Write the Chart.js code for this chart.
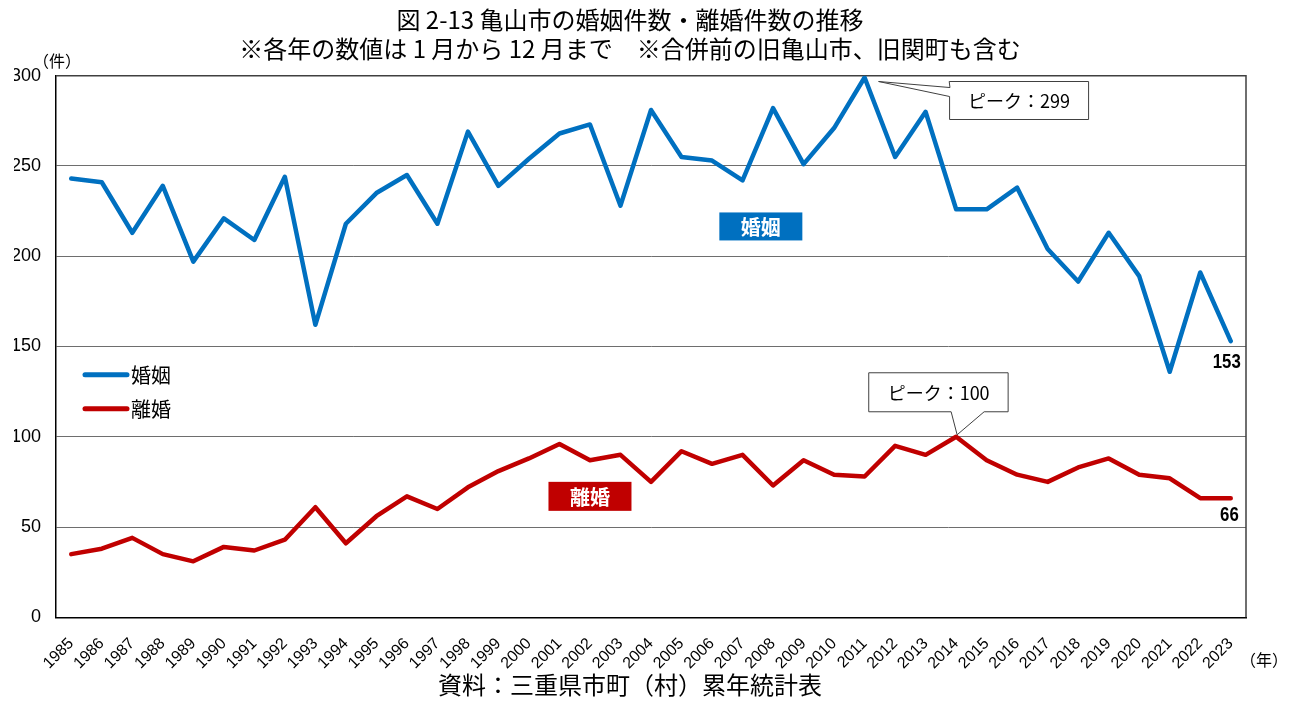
<!DOCTYPE html>
<html>
<head>
<meta charset="utf-8">
<script src="https://cdn.jsdelivr.net/npm/chart.js@4.4.1/dist/chart.umd.min.js"></script>
<style>
html,body{margin:0;padding:0;background:#ffffff;}
#wrap{width:1292px;height:704px;}
</style>
</head>
<body>
<div id="wrap"><canvas id="c" width="1292" height="704"></canvas></div>
<script>
// ---- data ----
const years = [1985,1986,1987,1988,1989,1990,1991,1992,1993,1994,1995,1996,1997,1998,1999,2000,2001,2002,2003,2004,2005,2006,2007,2008,2009,2010,2011,2012,2013,2014,2015,2016,2017,2018,2019,2020,2021,2022,2023];
const marriages = [243,241,213,239,197,221,209,244,162,218,235,245,218,269,239,254,268,273,228,281,255,253,242,282,251,271,299,255,280,226,226,238,204,186,213,189,136,191,153];
const divorces  = [35,38,44,35,31,39,37,43,61,41,56,67,60,72,81,88,96,87,90,75,92,85,90,73,87,79,78,95,90,100,87,79,75,83,88,79,77,66,66];
const yTicks = [0,50,100,150,200,250,300];
const seriesNames = ['婚姻','離婚'];
const seriesColors = ['#0070c0','#c00000'];
const titleLines = ['図 2-13 亀山市の婚姻件数・離婚件数の推移','※各年の数値は 1 月から 12 月まで　※合併前の旧亀山市、旧関町も含む'];
const sourceText = '資料：三重県市町（村）累年統計表';
const yUnit = '（件）';
const xUnit = '（年）';
const peakPrefix = 'ピーク：';

const JP = "'Noto Sans CJK JP', 'Noto Sans', sans-serif";
const LAT = "'Liberation Sans', Arial, sans-serif";

function condensedText(ctx, text, x, y, sx, align) {
  ctx.save();
  ctx.translate(x, y);
  ctx.scale(sx, 1);
  ctx.textAlign = align;
  ctx.fillText(text, 0, 0);
  ctx.restore();
}

const decor = {
  id: 'decor',
  beforeDatasetsDraw(chart) {
    const {ctx, chartArea: a} = chart;
    ctx.save();
    ctx.strokeStyle = '#404040';
    ctx.lineWidth = 1.5;
    ctx.beginPath();
    ctx.moveTo(a.left, a.top);
    ctx.lineTo(a.right, a.top);
    ctx.lineTo(a.right, a.bottom);
    ctx.stroke();
    ctx.restore();
  },
  afterDraw(chart) {
    const {ctx, chartArea: a} = chart;
    const xs = chart.scales.x, ys = chart.scales.y;
    const px = i => xs.getPixelForValue(i);
    const py = v => ys.getPixelForValue(v);
    ctx.save();
    ctx.textBaseline = 'middle';
    ctx.fillStyle = '#000';

    // unit labels
    ctx.font = "16px " + JP;
    ctx.textAlign = 'center';
    ctx.fillText(yUnit, a.left + 1, a.top - 15);
    ctx.fillText(xUnit, a.right + 18, a.bottom + 43);

    // legend (inside plot)
    const lgX = a.left + 29, lgY = [a.top + 299, a.top + 333];
    seriesNames.forEach((n, k) => {
      ctx.strokeStyle = seriesColors[k];
      ctx.lineWidth = 5;
      ctx.lineCap = 'round';
      ctx.beginPath();
      ctx.moveTo(lgX, lgY[k]);
      ctx.lineTo(lgX + 42, lgY[k]);
      ctx.stroke();
      ctx.fillStyle = '#000';
      ctx.font = "20px " + JP;
      ctx.textAlign = 'left';
      ctx.fillText(n, lgX + 46, lgY[k] + 1);
    });

    // series name boxes
    const boxes = [
      {i: 22.6, v: 216.5, w: 83, h: 28},
      {i: 17.0, v: 67, w: 83, h: 29}
    ];
    boxes.forEach((b, k) => {
      const cx = px(b.i), cy = py(b.v);
      ctx.fillStyle = seriesColors[k];
      ctx.fillRect(cx - b.w / 2, cy - b.h / 2, b.w, b.h);
      ctx.fillStyle = '#fff';
      ctx.font = "bold 20px " + JP;
      ctx.textAlign = 'center';
      ctx.fillText(seriesNames[k], cx, cy + 1);
    });

    // peak callouts
    ctx.lineWidth = 1;
    ctx.strokeStyle = '#404040';
    // marriage peak
    let im = marriages.indexOf(Math.max(...marriages));
    let P = {x: px(im), y: py(marriages[im])};
    let L = P.x + 85, T = P.y + 4, R = P.x + 224, B = P.y + 42;
    ctx.beginPath();
    ctx.moveTo(L, T); ctx.lineTo(R, T); ctx.lineTo(R, B); ctx.lineTo(L, B);
    ctx.lineTo(L, P.y + 19); ctx.lineTo(P.x + 14, P.y + 4); ctx.lineTo(L, P.y + 10);
    ctx.closePath();
    ctx.fillStyle = '#fff'; ctx.fill(); ctx.stroke();
    ctx.fillStyle = '#000';
    ctx.font = "18px " + JP;
    ctx.textAlign = 'center';
    ctx.fillText(peakPrefix + marriages[im], (L + R) / 2, (T + B) / 2 + 1);

    // divorce peak
    let id = divorces.indexOf(Math.max(...divorces));
    P = {x: px(id), y: py(divorces[id])};
    L = P.x - 87; R = P.x + 52; T = P.y - 64; B = P.y - 25;
    ctx.beginPath();
    ctx.moveTo(L, T); ctx.lineTo(R, T); ctx.lineTo(R, B);
    ctx.lineTo(P.x + 28, B); ctx.lineTo(P.x + 1, P.y - 2); ctx.lineTo(P.x - 5, B);
    ctx.lineTo(L, B); ctx.closePath();
    ctx.fillStyle = '#fff'; ctx.fill(); ctx.stroke();
    ctx.fillStyle = '#000';
    ctx.fillText(peakPrefix + divorces[id], (L + R) / 2, (T + B) / 2 + 1);

    // last values
    const last = years.length - 1;
    ctx.font = "bold 20px " + LAT;
    ctx.fillStyle = '#000';
    condensedText(ctx, String(marriages[last]), px(last) + 10, py(marriages[last]) + 21, 0.84, 'right');
    condensedText(ctx, String(divorces[last]), px(last) + 8, py(divorces[last]) + 17, 0.84, 'right');
    ctx.restore();
  }
};

new Chart(document.getElementById('c'), {
  type: 'line',
  data: {
    labels: years.map(String),
    datasets: [
      {label: seriesNames[0], data: marriages, borderColor: seriesColors[0], backgroundColor: seriesColors[0], borderWidth: 4.5, pointRadius: 0, tension: 0, borderJoinStyle: 'round', borderCapStyle: 'round'},
      {label: seriesNames[1], data: divorces, borderColor: seriesColors[1], backgroundColor: seriesColors[1], borderWidth: 4.5, pointRadius: 0, tension: 0, borderJoinStyle: 'round', borderCapStyle: 'round'}
    ]
  },
  options: {
    responsive: false,
    animation: false,
    devicePixelRatio: 1,
    layout: {padding: {left: 14, right: 46, top: 0, bottom: 0}},
    plugins: {
      legend: {display: false},
      tooltip: {enabled: false},
      title: {
        display: true,
        text: titleLines,
        color: '#000',
        font: {family: JP, size: 24, weight: 'normal', lineHeight: 29 / 24},
        padding: {top: 5.5, bottom: 12.2}
      },
      subtitle: {
        display: true,
        position: 'bottom',
        text: sourceText,
        color: '#000',
        font: {family: JP, size: 24, weight: 'normal', lineHeight: 1.2},
        padding: {top: 0, bottom: 5}
      }
    },
    scales: {
      x: {
        offset: true,
        grid: {display: false},
        border: {color: '#000', width: 1.5},
        ticks: {autoSkip: false, maxRotation: 45, minRotation: 45, color: '#000', padding: 9, font: {family: LAT, size: 16}},
        afterFit(s) { s.height = 52.9; }
      },
      y: {
        min: 0, max: 300,
        afterBuildTicks(s) { s.ticks = yTicks.map(v => ({value: v})); },
        grid: {color: '#6e6e6e', lineWidth: 1, drawTicks: false},
        border: {color: '#000', width: 1.5},
        ticks: {color: '#000', padding: 15, font: {family: LAT, size: 18}},
        afterFit(s) { s.width = 42; }
      }
    }
  },
  plugins: [decor]
});
</script>
</body>
</html>
